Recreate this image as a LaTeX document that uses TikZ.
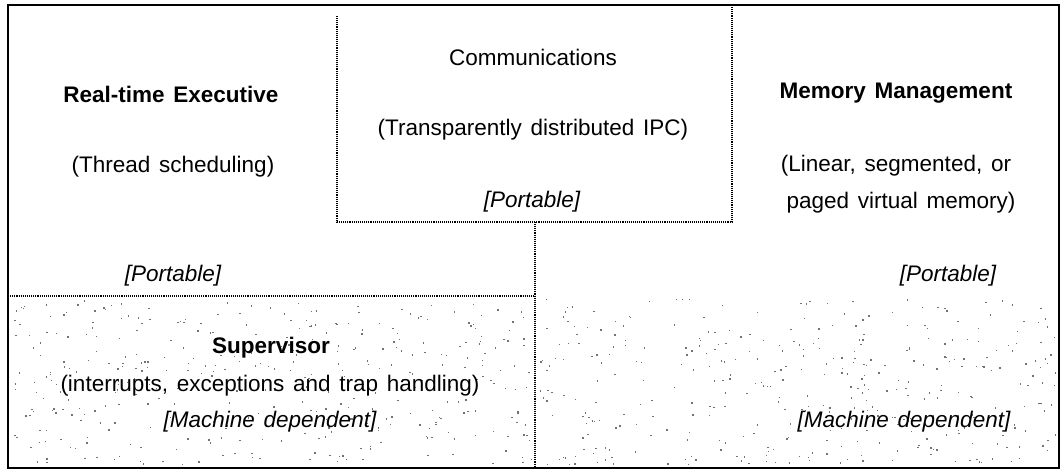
\documentclass[tikz,border=0pt]{standalone}
\usepackage{fontspec}
\setmainfont[WordSpace={1.4}]{Liberation Sans}
\begin{document}
\begin{tikzpicture}[x=1pt,y=-1pt,
  txt/.style={font=\fontsize{22.5}{26}\selectfont, inner sep=0pt, anchor=center},
  ttl/.style={txt, font=\fontsize{22.5}{26}\selectfont\bfseries},
  tag/.style={txt, font=\fontsize{22.5}{26}\selectfont\itshape},
  frame/.style={line width=1.4pt},
  divider/.style={line width=1.1pt, densely dotted},
  grain/.style={fill=black!55},
]
\useasboundingbox (0,0) rectangle (1062,470);

% corner points of the layout
\coordinate (tl) at (8,5);
\coordinate (tr) at (1059,5);
\coordinate (br) at (1059,468);
\coordinate (bl) at (8,468);
\coordinate (ctl) at (337,16);
\coordinate (cbl) at (337,222);
\coordinate (cbr) at (732,222);
\coordinate (ctr) at (732,7);
\coordinate (stop) at (535,222);
\coordinate (sbot) at (535,468);
\coordinate (svl) at (8,296);
\coordinate (svr) at (535,296);

% stippled machine dependent layer
\pgfmathsetseed{42}
\foreach \i in {1,...,380} {
  \pgfmathsetmacro\px{11+rnd*520}
  \pgfmathsetmacro\py{300+rnd*164}
  \fill[grain] (\px,\py) rectangle ++(1.4,1.4);
}
\foreach \i in {1,...,380} {
  \pgfmathsetmacro\px{539+rnd*516}
  \pgfmathsetmacro\py{298+rnd*166}
  \fill[grain] (\px,\py) rectangle ++(1.4,1.4);
}

% outer frame
\draw[frame] (tl) -- (tr) -- (br) -- (bl) -- cycle;

% communications box and partitions
\draw[divider] (ctl) -- (cbl) -- (cbr) -- (ctr);
\draw[divider] (stop) -- (sbot);
\draw[divider] (svl) -- (svr);

% real-time executive
\node[ttl] (rte) at (171,94) {Real-time Executive};
\node[txt] (rted) at (173,167) {(Thread scheduling)};
\node[tag] (rtep) at (173,276) {[Portable]};

% communications
\node[txt] (com) at (533,57) {Communications};
\node[txt] (comd) at (533,130) {(Transparently distributed IPC)};
\node[tag] (comp) at (532,202) {[Portable]};

% memory management
\node[ttl] (mm) at (896,93) {Memory Management};
\node[txt] (mmd1) at (896,166) {(Linear, segmented, or};
\node[txt] (mmd2) at (901,203) {paged virtual memory)};
\node[tag] (mmp) at (948,276) {[Portable]};

% supervisor
\node[ttl] (sup) at (271,348) {Supervisor};
\node[txt] (supd) at (270,386) {(interrupts, exceptions and trap handling)};
\node[tag] (supm) at (270,422) {[Machine dependent]};
\node[tag] (mmm) at (904,422) {[Machine dependent]};
\end{tikzpicture}
\end{document}
